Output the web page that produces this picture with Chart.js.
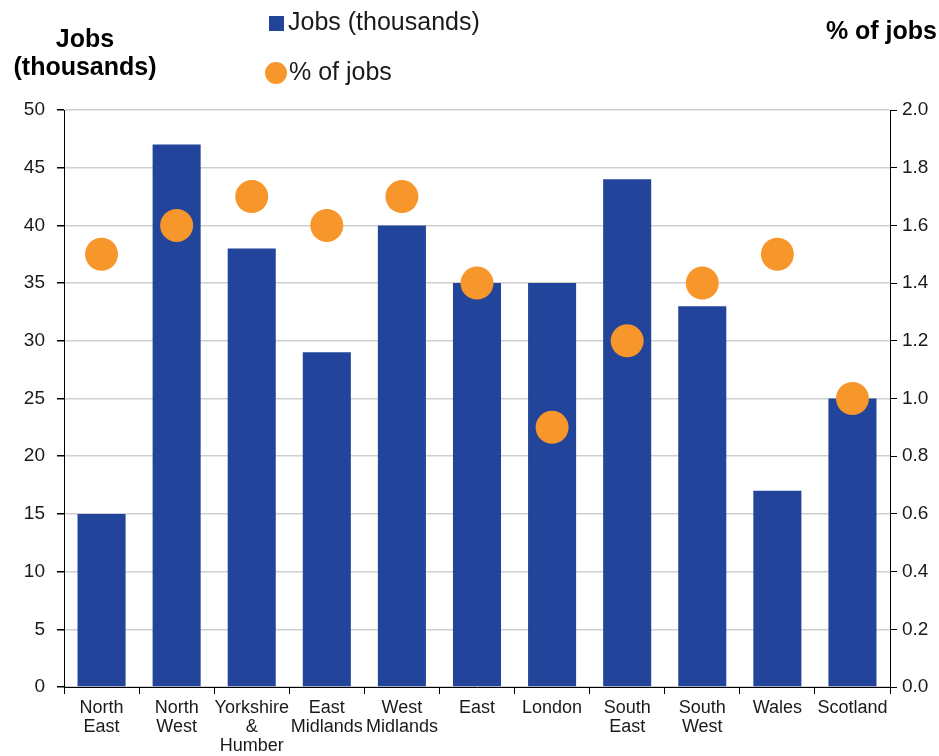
<!DOCTYPE html>
<html>
<head>
<meta charset="utf-8">
<script src="https://cdn.jsdelivr.net/npm/chart.js@4/dist/chart.umd.min.js"></script>
<style>
  html, body { margin: 0; padding: 0; background: #ffffff; }
  #wrap { position: relative; width: 939px; height: 756px; }
</style>
</head>
<body>
<div id="wrap"><canvas id="chart" width="939" height="756"></canvas></div>
<script>
// Regions of the UK
const regions = [
  ['North', 'East'], ['North', 'West'], ['Yorkshire', '&', 'Humber'],
  ['East', 'Midlands'], ['West', 'Midlands'], ['East'], ['London'],
  ['South', 'East'], ['South', 'West'], ['Wales'], ['Scotland']
];
// Jobs in thousands
const jobsThousands = [15, 47, 38, 29, 40, 35, 35, 44, 33, 17, 25];
// Share of all jobs in the region, %
const pctOfJobs = [1.5, 1.6, 1.7, 1.6, 1.7, 1.4, 0.9, 1.2, 1.4, 1.5, 1.0];
// Axis tick values
const leftTicks = [0, 5, 10, 15, 20, 25, 30, 35, 40, 45, 50];
const rightTicks = [0, 0.2, 0.4, 0.6, 0.8, 1.0, 1.2, 1.4, 1.6, 1.8, 2.0];

const BLUE = '#22449a';
const ORANGE = '#f7962b';
const FONT = '"Liberation Sans", Arial, sans-serif';

// Axis titles and the two-row legend drawn on the canvas
const headerPlugin = {
  id: 'header',
  afterDraw(chart) {
    const c = chart.ctx;
    const bars = chart.data.datasets.find(d => d.type === 'bar');
    const dots = chart.data.datasets.find(d => d.type === 'scatter');
    c.save();
    c.fillStyle = '#000';
    c.textBaseline = 'middle';
    c.font = 'bold 25px ' + FONT;
    c.textAlign = 'center';
    c.fillText('Jobs', 85, 40);
    c.fillText('(thousands)', 85, 68);
    c.textAlign = 'right';
    c.fillText('% of jobs', 937, 32);

    c.font = '25px ' + FONT;
    c.textAlign = 'left';
    c.fillStyle = bars.backgroundColor;
    c.fillRect(269, 16, 15, 15);
    c.fillStyle = '#1a1a1a';
    c.fillText(bars.label, 288, 23);
    c.fillStyle = dots.backgroundColor;
    c.beginPath();
    c.arc(276, 73, 11, 0, Math.PI * 2);
    c.fill();
    c.fillStyle = '#1a1a1a';
    c.fillText(dots.label, 289, 73);
    c.restore();
  }
};

new Chart(document.getElementById('chart'), {
  data: {
    labels: regions,
    datasets: [
      {
        type: 'scatter',
        label: '% of jobs',
        data: pctOfJobs,
        yAxisID: 'yR',
        backgroundColor: ORANGE,
        borderColor: ORANGE,
        pointRadius: 16.5,
        pointHoverRadius: 16.5,
        borderWidth: 0,
        showLine: false,
        order: 0
      },
      {
        type: 'bar',
        label: 'Jobs (thousands)',
        data: jobsThousands,
        yAxisID: 'yL',
        backgroundColor: BLUE,
        borderWidth: 0,
        categoryPercentage: 1,
        barPercentage: 0.64,
        order: 1
      }
    ]
  },
  options: {
    responsive: false,
    animation: false,
    layout: { padding: { top: 110, left: 0, right: 0, bottom: 0 } },
    plugins: { legend: { display: false }, tooltip: { enabled: false } },
    scales: {
      x: {
        type: 'category',
        offset: true,
        grid: { offset: true, drawOnChartArea: false, tickColor: '#000', tickLength: 7, lineWidth: 1 },
        border: { color: '#000', width: 1 },
        ticks: { color: '#1a1a1a', font: { family: FONT, size: 18, lineHeight: 1.06 }, maxRotation: 0, autoSkip: false, padding: 4 },
        afterFit(s) { s.height = 69; }
      },
      yL: {
        type: 'linear',
        position: 'left',
        min: 0, max: 50,
        afterBuildTicks(s) { s.ticks = leftTicks.map(v => ({ value: v })); },
        grid: { color: '#cfcfcf', lineWidth: 1.5, tickColor: '#000', tickLength: 7 },
        border: { color: '#000', width: 1 },
        ticks: { color: '#1a1a1a', font: { family: FONT, size: 19 }, padding: 12 },
        afterFit(s) { s.width = 64; }
      },
      yR: {
        type: 'linear',
        position: 'right',
        min: 0, max: 2.0,
        afterBuildTicks(s) { s.ticks = rightTicks.map(v => ({ value: v })); },
        grid: { drawOnChartArea: false, tickColor: '#000', tickLength: 7 },
        border: { color: '#000', width: 1 },
        ticks: { color: '#1a1a1a', font: { family: FONT, size: 19 }, padding: 5, callback: v => Number(v).toFixed(1) },
        afterFit(s) { s.width = 49; }
      }
    }
  },
  plugins: [headerPlugin]
});
</script>
</body>
</html>
